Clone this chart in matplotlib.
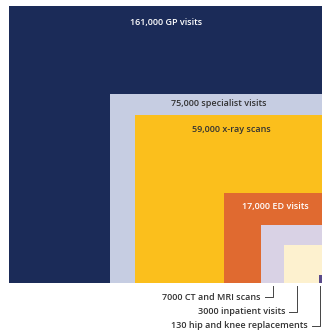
import numpy as np
import matplotlib.pyplot as plt

# Werte (Anzahl) und Beschriftungen
werte = [161000, 75000, 59000, 17000, 7000, 3000, 130]
labels = ['161,000 GP visits', '75,000 specialist visits', '59,000 x-ray scans',
          '17,000 ED visits', '7000 CT and MRI scans', '3000 inpatient visits',
          '130 hip and knee replacements']
farben = ['#1b2b58', '#c6cde2', '#fbbf1c', '#e06a30', '#d9d2e5', '#fdf1cf', '#5a4a8a']
textfarben = ['white', '#333333', '#333333', 'white']

plt.rcParams['font.family'] = ['Open Sans', 'DejaVu Sans']

fig = plt.figure(figsize=(3.22, 3.31), dpi=100)
ax = fig.add_axes([0, 0, 1, 1])
ax.set_xlim(0, 322)
ax.set_ylim(331, 0)
ax.axis('off')

rechts = 327.6
unten = 283
max_hoehe = 277
seitenverh = 1.15

ecken = []
for i, w in enumerate(werte):
    h = max_hoehe * np.sqrt(w / werte[0])
    b = h * seitenverh
    links = rechts - b
    oben = unten - h
    ax.add_patch(plt.Rectangle((links, oben), b, h, color=farben[i], lw=0))
    ecken.append((links, oben, b, h))

# Beschriftungen innerhalb der grossen Rechtecke
for i in range(4):
    links, oben, b, h = ecken[i]
    dy = [17, 10, 14, 14][i]
    ax.text(links + b / 2 - [2, 0, 0, 0][i], oben + dy, labels[i], ha='center', va='center',
            color=textfarben[i], fontsize=6.5, fontweight='semibold')

# kleine Rechtecke: Beschriftung unten mit Winkel-Linie
text_y = [297, 312, 326]
versatz = [11.5, 13, 1.5]
for j, i in enumerate([4, 5, 6]):
    links, oben, b, h = ecken[i]
    lx = links + versatz[j]
    ty = text_y[j]
    ax.plot([lx - 8, lx, lx], [ty, ty, unten + 3], color='#444444', lw=0.7)
    ax.text(lx - 12, ty, labels[i], ha='right', va='center',
            color='#333333', fontsize=6.5, fontweight='semibold')

fig.savefig('out.png', dpi=100)
